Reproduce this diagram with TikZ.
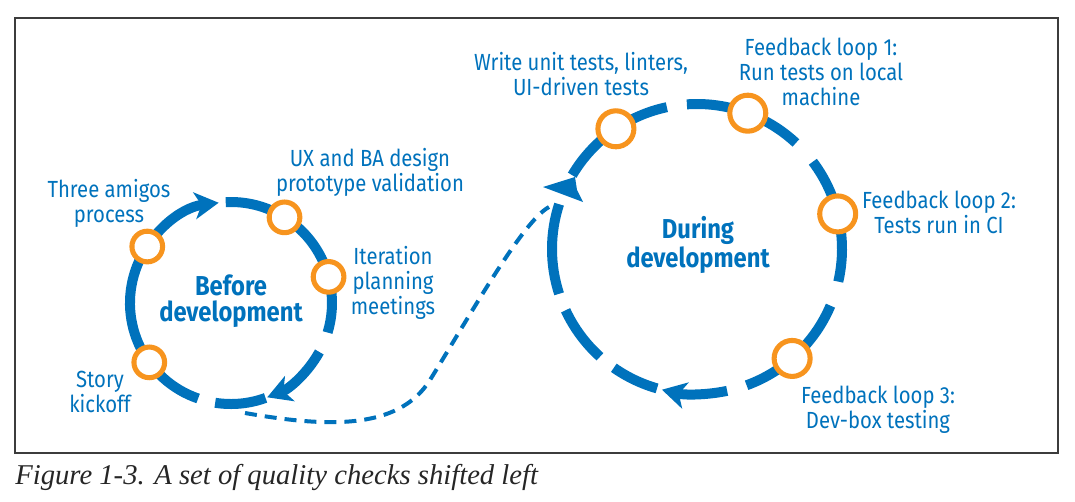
\documentclass[tikz,border=0pt]{standalone}
\usepackage{fontspec}
\setmainfont{Liberation Serif}
\newfontfamily\lblfont[FakeStretch=0.87]{Fira Sans}
\usetikzlibrary{arrows.meta}
\definecolor{loopblue}{RGB}{0,114,188}
\definecolor{ringorange}{RGB}{247,148,30}
\definecolor{framegray}{RGB}{60,60,60}

\begin{document}
\begin{tikzpicture}[x=0.75pt, y=-0.75pt,
    loopline/.style={draw=loopblue, line width=7.5pt},
    looparrow/.style={loopline, -{Stealth[length=18pt, width=20pt, inset=5pt]}},
    handoffline/.style={draw=loopblue, line width=3pt, dash pattern=on 9pt off 6pt},
    ringsmall/.style={circle, draw=ringorange, line width=3.8pt, fill=white, minimum size=23pt, inner sep=0pt},
    ringbig/.style={ringsmall, minimum size=27pt},
    lbl/.style={font=\lblfont\fontsize{17.5}{18.75}\selectfont, text=loopblue, align=center, inner sep=0pt},
    phase/.style={lbl, font=\lblfont\bfseries\fontsize{20.5}{19.5}\selectfont}]
    \useasboundingbox (0,0) rectangle (1075,501);
    \draw[framegray, line width=1.1pt] (15,18) rectangle (1058,453);

    % Before development loop
    \coordinate (before) at (231,303);
    \draw[looparrow] ([shift={(109:101)}]before) arc[start angle=109, end angle=263, radius=101];
    \draw[loopline] ([shift={(-93:101)}]before) arc[start angle=-93, end angle=17, radius=101];
    \draw[looparrow] ([shift={(29:101)}]before) arc[start angle=29, end angle=69, radius=101];
    \draw[loopline] ([shift={(70:101)}]before) arc[start angle=70, end angle=99, radius=101];
    \node[ringsmall] (amigos) at ([shift={(-146:101)}]before) {};
    \node[ringsmall] (uxba) at ([shift={(-58:101)}]before) {};
    \node[ringsmall] (iteration) at ([shift={(-15:101)}]before) {};
    \node[ringsmall] (story) at ([shift={(144:101)}]before) {};

    % During development loop
    \coordinate (during) at (697,249);
    \draw[loopline] ([shift={(-94:145)}]during) arc[start angle=-94, end angle=-47, radius=145];
    \draw[loopline] ([shift={(-37:145)}]during) arc[start angle=-37, end angle=13, radius=145];
    \draw[loopline] ([shift={(23:145)}]during) arc[start angle=23, end angle=70, radius=145];
    \draw[looparrow] ([shift={(78:145)}]during) arc[start angle=78, end angle=104, radius=145];
    \draw[loopline] ([shift={(106:145)}]during) arc[start angle=106, end angle=125, radius=145];
    \draw[loopline] ([shift={(132:145)}]during) arc[start angle=132, end angle=155, radius=145];
    \draw[loopline] ([shift={(162:145)}]during) arc[start angle=162, end angle=198, radius=145];
    \draw[loopline] ([shift={(210.6:145)}]during) arc[start angle=210.6, end angle=258, radius=145];
    \fill[loopblue] (543,187) -- (575,177) -- (577,190) -- (583,202) -- cycle;
    \node[ringbig] (unittests) at ([shift={(-124:145)}]during) {};
    \node[ringbig] (feedbackone) at ([shift={(-69.5:145)}]during) {};
    \node[ringbig] (feedbacktwo) at ([shift={(-14:145)}]during) {};
    \node[ringbig] (feedbackthree) at ([shift={(49:145)}]during) {};

    % Hand-off between the loops
    \coordinate (handoff) at (245,413);
    \coordinate (bend) at (430,380);
    \coordinate (entry) at (549,207);
    \draw[handoffline] (handoff) .. controls (325,427) and (398,431) .. (bend)
        .. controls (472,312) and (523,221) .. (entry);

    % Labels
    \node[lbl] (amigoslbl) at (109,203) {Three amigos\\process};
    \node[lbl] (uxbalbl) at (370,172) {UX and BA design\\prototype validation};
    \node[lbl] (iterationlbl) at (393,283) {Iteration\\planning\\meetings};
    \node[lbl] (storylbl) at (100,392) {Story\\kickoff};
    \node[phase] (beforelbl) at (231,301) {Before\\development};
    \node[lbl] (unittestslbl) at (581,74) {Write unit tests, linters,\\UI-driven tests};
    \node[lbl] (feedbackonelbl) at (821,72) {Feedback loop 1:\\Run tests on local\\machine};
    \node[lbl] (feedbacktwolbl) at (939,212) {Feedback loop 2:\\Tests run in CI};
    \node[phase] (duringlbl) at (698,245) {During\\development};
    \node[lbl] (feedbackthreelbl) at (878,410) {Feedback loop 3:\\Dev-box testing};

    % Caption
    \node[anchor=base west, inner sep=0pt, font=\itshape\fontsize{21.5}{24}\selectfont, text=black!85] (caption) at (15,484) {Figure 1-3. A set of quality checks shifted left};
\end{tikzpicture}
\end{document}
